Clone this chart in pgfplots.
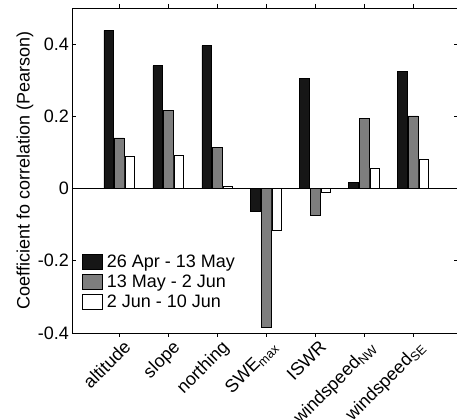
\documentclass[border=0pt]{standalone}
\usepackage{fontspec}
\setmainfont{Liberation Sans}
\usepackage{pgfplots}
\pgfplotsset{compat=1.18}
\definecolor{cblack}{HTML}{161616}
\definecolor{cgray}{HTML}{7E7E7E}
\pgfplotsset{swatch/.style={legend image code/.code={\draw[##1, draw=black, line width=0.6bp] (0bp,-7.5bp) rectangle (20bp,7.5bp);}}}
\begin{document}
\begin{tikzpicture}
\begin{axis}[
  scale only axis,
  width=386bp, height=325bp,
  xmin=0.04, xmax=7.92,
  ymin=-0.4, ymax=0.5,
  xtick={1,2,3,4,5,6,7},
  xticklabels={altitude,slope,northing,SWE\textsubscript{max},ISWR,windspeed\textsubscript{NW},windspeed\textsubscript{SE}},
  ytick={-0.4,-0.2,0,0.2,0.4},
  yticklabels={-0.4,-0.2,0,0.2,0.4},
  tick align=inside,
  major tick length=4bp,
  tick style={black, line width=0.7bp},
  axis line style={black, line width=0.8bp},
  xticklabel style={rotate=45, anchor=north east, inner sep=0pt, yshift=-4bp, xshift=1bp},
  yticklabel style={inner sep=0pt, xshift=-3bp},
  font=\fontsize{18bp}{21bp}\selectfont,
  ylabel={Coefficient fo correlation (Pearson)},
  every axis y label/.style={at={(rel axis cs:0,0.5)}, xshift=-47bp, rotate=90, anchor=center},
  legend style={draw=none, fill=none, at={(rel axis cs:0.026,0.243)}, anchor=north west,
    font=\fontsize{18bp}{21bp}\selectfont, row sep=4.5bp, inner sep=0pt,
    nodes={inner xsep=4bp, inner ysep=0bp}},
  legend cell align=left,
  ybar, bar width=0.2,
  clip=false,
]
\coordinate (ll) at (rel axis cs:0,0);
\coordinate (ur) at (rel axis cs:1,1);
\addplot[fill=cblack, draw=black, line width=0.6bp, bar shift=-0.21, swatch] coordinates {
  (1,0.438) (2,0.340) (3,0.396) (4,-0.064) (5,0.305) (6,0.017) (7,0.325)};
\addplot[fill=cgray, draw=black, line width=0.6bp, bar shift=0, swatch] coordinates {
  (1,0.140) (2,0.217) (3,0.114) (4,-0.385) (5,-0.074) (6,0.195) (7,0.201)};
\addplot[fill=white, draw=black, line width=0.6bp, bar shift=0.22, swatch] coordinates {
  (1,0.088) (2,0.093) (3,0.006) (4,-0.116) (5,-0.011) (6,0.057) (7,0.082)};
\legend{26 Apr - 13 May, 13 May - 2 Jun, 2 Jun - 10 Jun}
\draw[black, line width=0.8bp] ({rel axis cs:0,0}|-{axis cs:1,0}) -- ({rel axis cs:1,0}|-{axis cs:1,0});
\end{axis}
\pgfresetboundingbox
\path ([xshift=-72bp,yshift=-87bp]ll) rectangle ([xshift=-1bp,yshift=8bp]ur);
\end{tikzpicture}
\end{document}
